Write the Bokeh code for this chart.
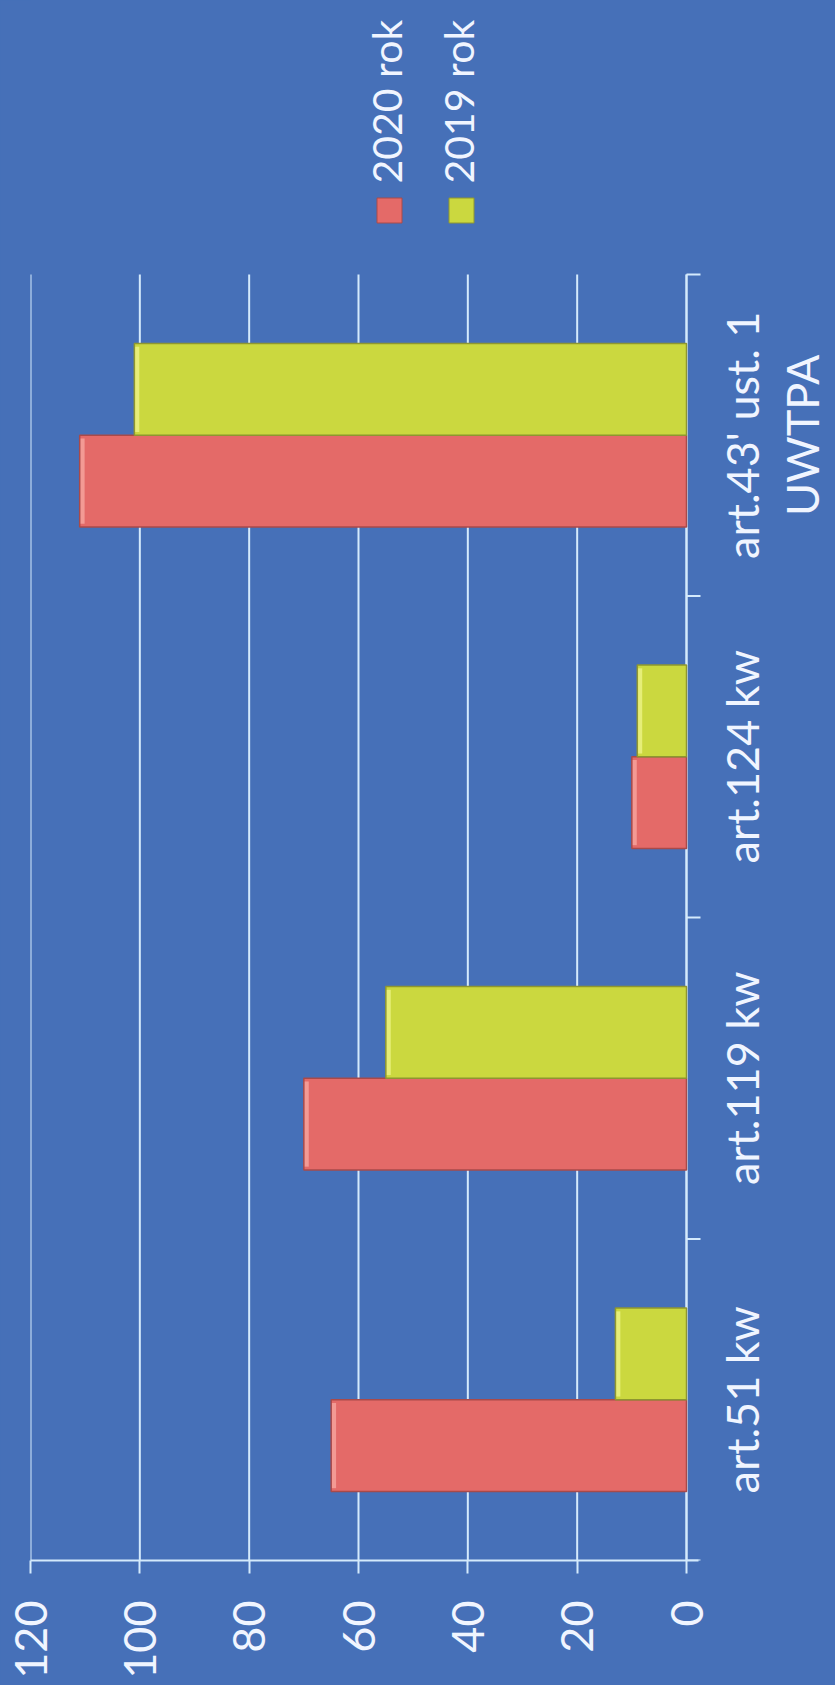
import math
from bokeh.plotting import figure
from bokeh.models import Range1d, LinearAxis, FixedTicker, ColumnDataSource, Grid
from bokeh.transform import dodge
from bokeh.embed import file_html
from bokeh.resources import INLINE
from bokeh.core.properties import value

# ---- data ----
categories = ["art.51 kw", "art.119 kw", "art.124 kw", "art.43' ust. 1\nUWTPA"]
values_2020 = [65, 70, 10, 111]
values_2019 = [13, 55, 9, 101]
series = ["2020 rok", "2019 rok"]
colors = ["#e46a68", "#cbd83f"]
highlight_colors = ["#f39a94", "#e6ee78"]
outline_colors = ["#a84a4a", "#8e9630"]
value_ticks = [0, 20, 40, 60, 80, 100, 120]

# ---- style / layout ----
BG = "#4670b8"
LINE = "#d4eafc"
TXT = "#f0f5ff"
FONT = "Lato"
W, H = 835, 1685
FRAME_LEFT = 30        # px of value 120
ZERO_PX = 686          # px of value 0
TOP_PX = 274           # px of top of category area
BOTTOM_PX = 1560       # px of category baseline
VMAX = 120

n = len(categories)
centers = [i + 0.5 for i in range(n)]
bounds = list(range(n + 1))
ppu = (ZERO_PX - FRAME_LEFT) / VMAX
slot = (BOTTOM_PX - TOP_PX) / n
x_right = -(W - ZERO_PX) / ppu
y_top = n + TOP_PX / slot


def x_of(px):
    return (ZERO_PX - px) / ppu


def y_of(py):
    return (BOTTOM_PX - py) / slot


p = figure(width=W, height=H,
           x_range=Range1d(VMAX, x_right),
           y_range=Range1d(0, y_top),
           output_backend="svg", toolbar_location=None,
           x_axis_location=None, y_axis_location=None,
           min_border_left=FRAME_LEFT, min_border_right=0,
           min_border_top=0, min_border_bottom=H - BOTTOM_PX,
           background_fill_color=BG, border_fill_color=BG,
           outline_line_color=None)
p.center = [r for r in p.center if not isinstance(r, Grid)]

# value axis (bottom)
xaxis = LinearAxis(ticker=FixedTicker(ticks=value_ticks, minor_ticks=[]),
                   bounds=(x_of(698), VMAX),
                   axis_line_color=LINE, axis_line_width=2,
                   major_tick_line_color=LINE, major_tick_line_width=2,
                   major_tick_out=13, major_tick_in=0,
                   minor_tick_line_color=None,
                   major_label_orientation=math.pi / 2,
                   major_label_standoff=27,
                   major_label_text_font=FONT,
                   major_label_text_font_size="45px",
                   major_label_text_color=TXT)
p.add_layout(xaxis, "below")

# value grid lines, spanning the category area only
p.segment(x0=value_ticks, y0=0, x1=value_ticks, y1=n, line_color=LINE, line_width=2)

# category axis line at value 0 with boundary ticks
p.segment(x0=0, y0=0, x1=0, y1=n, line_color=LINE, line_width=2)
p.ray(x=[0] * len(bounds), y=bounds, length=14, length_units="screen", angle=0,
      line_color=LINE, line_width=2)

# bars
src = ColumnDataSource(dict(pos=centers, v2020=values_2020, v2019=values_2019,
                            h2020=[v - 0.9 for v in values_2020],
                            h2019=[v - 0.9 for v in values_2019]))
BAR_H = 0.285
for key, off, i in (("2020", -BAR_H / 2, 0), ("2019", BAR_H / 2, 1)):
    p.hbar(y=dodge("pos", off), left=0, right="v" + key, height=BAR_H,
           source=src, fill_color=colors[i], line_color=None)
    p.hbar(y=dodge("pos", off), left="h" + key, right="v" + key, height=BAR_H - 0.02,
           source=src, fill_color=highlight_colors[i], line_color=None)
    p.hbar(y=dodge("pos", off), left=0, right="v" + key, height=BAR_H,
           source=src, fill_color=None, line_color=outline_colors[i], line_width=1.5)

# category labels (rotated, reading upward)
p.text(x=[0] * n, y=centers, text=categories, angle=math.pi / 2,
       text_align="center", text_baseline="top", x_offset=28,
       text_font=value(FONT), text_font_size="45px", text_color=TXT,
       text_line_height=1.12)

# legend (rotated)
step = 72
lx = [x_of(389 + step * i) for i in range(len(series))]
ly = [y_of(210)] * len(series)
lsrc = ColumnDataSource(dict(x=lx, y=ly, label=series, color=colors, lc=outline_colors))
p.rect(x="x", y="y", width=25, height=25, width_units="screen", height_units="screen",
       fill_color="color", line_color="lc", source=lsrc)
p.text(x="x", y="y", text="label", angle=math.pi / 2, text_align="left",
       text_baseline="alphabetic", x_offset=-3, y_offset=-27,
       text_font=value(FONT), text_font_size="41px", text_color=TXT, source=lsrc)

html = file_html(p, INLINE)
html = html.replace("<head>", "<head><style>body{background:%s;}</style>" % BG, 1)
open("out.html", "w").write(html)
